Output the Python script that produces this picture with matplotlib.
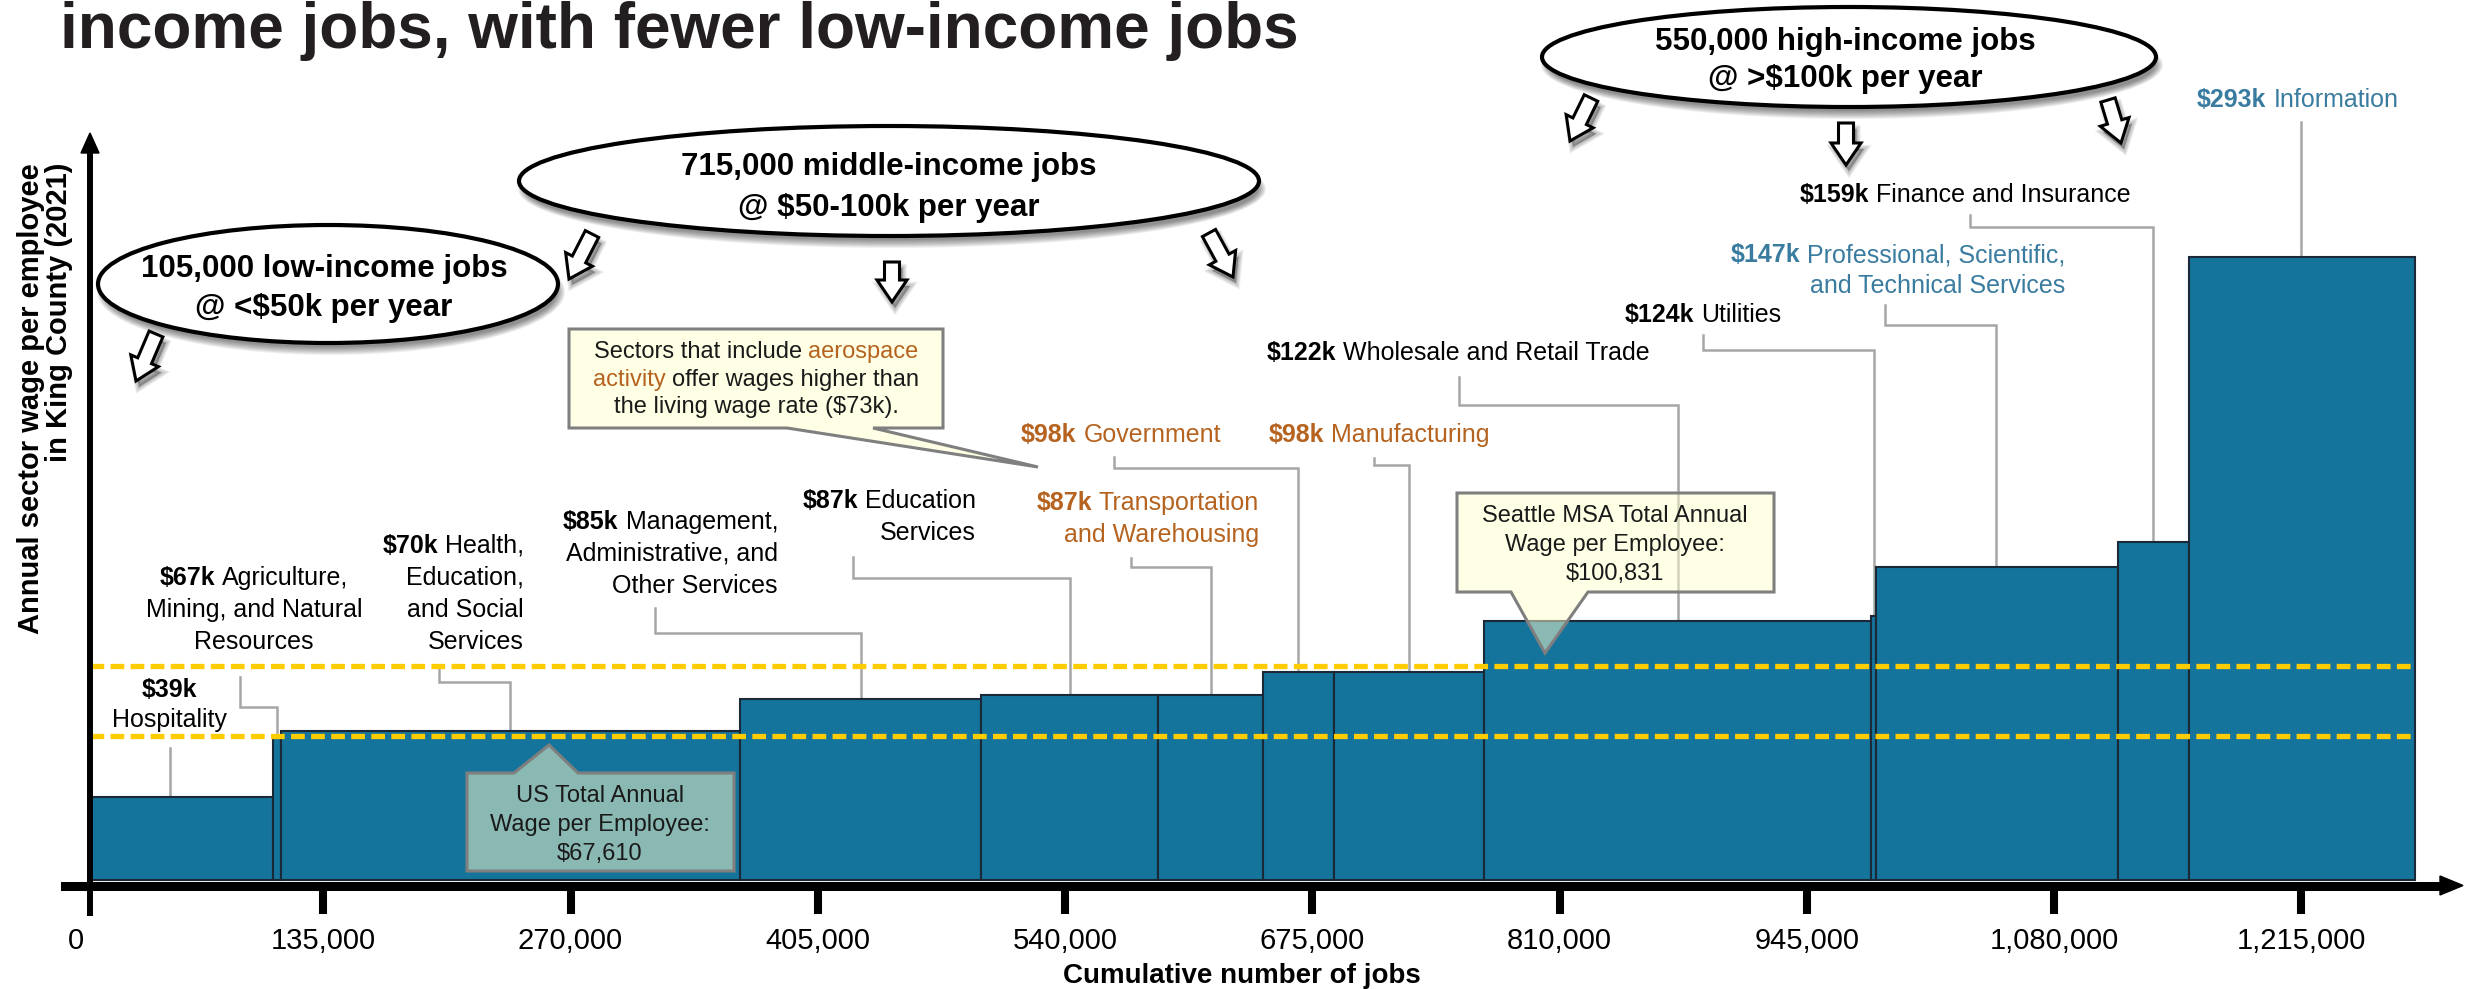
import numpy as np
import matplotlib
matplotlib.use("Agg")
import matplotlib.pyplot as plt
from matplotlib.patches import Ellipse, Polygon
from matplotlib.lines import Line2D
from matplotlib.transforms import Affine2D

plt.rcParams['font.family'] = ['Liberation Sans', 'DejaVu Sans']

# ---------------- data ----------------
sector_names = [
    ["Hospitality"],
    ["Agriculture,", "Mining, and Natural", "Resources"],
    ["Health,", "Education,", "and Social", "Services"],
    ["Management,", "Administrative, and", "Other Services"],
    ["Education", "Services"],
    ["Transportation", "and Warehousing"],
    ["Government"],
    ["Manufacturing"],
    ["Wholesale and Retail Trade"],
    ["Utilities"],
    ["Professional, Scientific,", "and Technical Services"],
    ["Finance and Insurance"],
    ["Information"],
]
wage_k = [39, 67, 70, 85, 87, 87, 98, 98, 122, 124, 147, 159, 293]
jobs = [100200, 4400, 250300, 131600, 96600, 57300, 38800, 81900,
        211600, 2700, 131900, 38800, 123400]
label_group = ["k", "k", "k", "k", "k", "o", "o", "o", "k", "k", "b", "k", "b"]
us_wage_k = 67.610
seattle_wage_k = 100.831
axis_cross_jobs = 7600
x_ticks = [0, 135000, 270000, 405000, 540000, 675000, 810000, 945000, 1080000, 1215000]
x_tick_labels = ["0", "135,000", "270,000", "405,000", "540,000", "675,000",
                 "810,000", "945,000", "1,080,000", "1,215,000"]

COL = {"k": "#000000", "o": "#B5631F", "b": "#3A7CA0"}
BAR = "#15749B"

# ---------------- figure ----------------
W, H = 2468, 989
fig = plt.figure(figsize=(W / 100, H / 100), dpi=100)
fig.patch.set_facecolor("white")
pxT = Affine2D().scale(1 / W, -1 / H).translate(0, 1) + fig.transFigure

PX_PER_K = 2.127
BASE_PY = 880
JOBS_PER_PX = 546.0
ZERO_PX = 76
axL, axR, axT, axB = 65, 2447, 148, 913
ax = fig.add_axes([axL / W, 1 - axB / H, (axR - axL) / W, (axB - axT) / H])
ax.set_xlim((axL - ZERO_PX) * JOBS_PER_PX, (axR - ZERO_PX) * JOBS_PER_PX)
ax.set_ylim(-(axB - BASE_PY) / PX_PER_K, (BASE_PY - axT) / PX_PER_K)
ax.patch.set_alpha(0)

# bars
lefts = axis_cross_jobs + np.concatenate([[0], np.cumsum(jobs)[:-1]])
ax.bar(lefts, wage_k, width=jobs, align="edge", color=BAR,
       edgecolor="#1B2838", linewidth=1.5, zorder=2)
right_end = axis_cross_jobs + np.sum(jobs)

# reference wage lines
for v in (us_wage_k, seattle_wage_k):
    ax.plot([axis_cross_jobs, right_end], [v, v], color="#FFCC00", lw=3.8,
            dashes=(2.6, 1.2), dash_capstyle="butt", zorder=3)

# axes styling
for s in ("top", "right"):
    ax.spines[s].set_visible(False)
ax.spines["bottom"].set_position(("data", -2.6))
ax.spines["bottom"].set_linewidth(6.5)
ax.spines["left"].set_position(("data", axis_cross_jobs))
ax.spines["left"].set_linewidth(4.3)
for s in ("bottom", "left"):
    ax.spines[s].set_zorder(6)
ax.set_yticks([])
ax.set_xticks(x_ticks)
ax.set_xticklabels(x_tick_labels)
ax.tick_params(axis="x", direction="out", length=19.8, width=5.8,
               labelsize=21, pad=10)
ticks = ax.xaxis.get_major_ticks()
ticks[0].tick1line.set_visible(False)

# axis arrowheads
ax.add_patch(Polygon([(2440, 876), (2463, 885.5), (2440, 895)], closed=True,
                     transform=pxT, color="black", clip_on=False, zorder=6))
ax.add_patch(Polygon([(81, 153), (90, 133), (99, 153)], closed=True,
                     transform=pxT, color="black", clip_on=False, zorder=6))

# axis titles
ax.text(1242, 983, "Cumulative number of jobs", transform=pxT, ha="center",
        va="baseline", fontsize=20, fontweight="bold", clip_on=False)
ax.text(31, 163, "Annual sector wage per employee", transform=pxT, rotation=90,
        ha="center", va="top", fontsize=21, fontweight="bold", clip_on=False)
ax.text(59, 163, "in King County (2021)", transform=pxT, rotation=90,
        ha="center", va="top", fontsize=21, fontweight="bold", clip_on=False)

# title (second line of a clipped heading)
ax.text(60, 48, "income jobs, with fewer low-income jobs", transform=pxT,
        ha="left", va="baseline", fontsize=46, fontweight="bold",
        color="#231F20", clip_on=False)

renderer = fig.canvas.get_renderer()


def rich_line(x, y, parts, ha="left", size=18, zorder=8):
    arts, widths = [], []
    for s, bold, col in parts:
        t = ax.text(0, y, s, transform=pxT, fontsize=size,
                    fontweight="bold" if bold else "normal", color=col,
                    va="baseline", ha="left", clip_on=False, zorder=zorder)
        arts.append(t)
        widths.append(t.get_window_extent(renderer).width)
    gap = 0.278 * size * 100 / 72
    total = sum(widths) + gap * (len(parts) - 1)
    start = {"left": x, "center": x - total / 2, "right": x - total}[ha]
    for t, w in zip(arts, widths):
        t.set_x(start)
        start += w + gap


# sector labels
label_anchor = [(169, "center"), (254, "center"), (524, "right"), (778, "right"),
                (976, "right"), (1259, "right"), (1021, "left"), (1269, "left"),
                (1267, "left"), (1625, "left"), (2065, "right"), (1800, "left"),
                (2197, "left")]
label_baselines = [[697, 727], [585, 617, 649], [553, 585, 617, 649],
                   [529, 561, 593], [508, 540], [510, 542], [442], [442], [360],
                   [322], [262, 293], [202], [107]]
leaders = [
    [(170, 748)],
    [(240, 677), (240, 707), (277, 707)],
    [(439, 667), (439, 682), (510, 682)],
    [(655, 608), (655, 633), (861, 633)],
    [(853, 557), (853, 578), (1070, 578)],
    [(1131, 558), (1131, 567), (1211, 567)],
    [(1114, 457), (1114, 468), (1298, 468)],
    [(1374, 458), (1374, 465), (1409, 465)],
    [(1459, 377), (1459, 405), (1678, 405)],
    [(1703, 335), (1703, 350), (1874, 350)],
    [(1885, 305), (1885, 325), (1996, 325)],
    [(1970, 215), (1970, 227), (2153, 227)],
    [(2301, 122)],
]

for i, names in enumerate(sector_names):
    col = COL[label_group[i]]
    x, ha = label_anchor[i]
    bls = label_baselines[i]
    value = f"${wage_k[i]}k"
    if i == 0:
        rich_line(x, bls[0], [(value, True, col)], ha)
        rich_line(x, bls[1], [(names[0], False, col)], ha)
    else:
        rich_line(x, bls[0], [(value, True, col), (names[0], False, col)], ha)
        for nm, bl in zip(names[1:], bls[1:]):
            rich_line(x, bl, [(nm, False, col)], ha)
    # leader line ending on the bar top
    pts = leaders[i]
    top_disp = ax.transData.transform((0, wage_k[i]))[1]
    top_py = H - top_disp
    xs = [p[0] for p in pts] + [pts[-1][0]]
    ys = [p[1] for p in pts] + [top_py]
    ax.add_line(Line2D(xs, ys, transform=pxT, color="#A6A6A6", lw=1.8,
                       clip_on=False, zorder=1.5, solid_joinstyle="miter"))


# callouts
def callout(pts):
    ax.add_patch(Polygon(pts, closed=True, transform=pxT,
                         facecolor=(1, 1, 0.8, 0.5), edgecolor="#7F7F7F",
                         lw=2.2, joinstyle="miter", clip_on=False, zorder=7))


callout([(569, 329), (943, 329), (943, 428), (873, 428), (1038, 467),
         (787, 428), (569, 428)])
ORG = COL["o"]
rich_line(756, 358, [("Sectors that include", False, "#1a1a1a"), ("aerospace", False, ORG)], "center", 17)
rich_line(756, 386, [("activity", False, ORG), ("offer wages higher than", False, "#1a1a1a")], "center", 17)
rich_line(756, 413, [("the living wage rate ($73k).", False, "#1a1a1a")], "center", 17)

callout([(467, 773), (514, 773), (549, 745), (578, 773), (734, 773),
         (734, 871), (467, 871)])
for s, bl in zip(["US Total Annual", "Wage per Employee:", f"${us_wage_k * 1000:,.0f}"],
                 [802, 831, 860]):
    rich_line(600, bl, [(s, False, "#1a1a1a")], "center", 17)

callout([(1457, 493), (1774, 493), (1774, 592), (1588, 592), (1545, 653),
         (1511, 592), (1457, 592)])
for s, bl in zip(["Seattle MSA Total Annual", "Wage per Employee:",
                  f"${seattle_wage_k * 1000:,.0f}"], [522, 551, 580]):
    rich_line(1615, bl, [(s, False, "#1a1a1a")], "center", 17)


# ellipses with shadows
def shadowed_ellipse(cx, cy, w, h):
    for k in range(9):
        ax.add_patch(Ellipse((cx + 3, cy + 8), w + 2 * k - 8, h + 2 * k - 8,
                             transform=pxT, facecolor="black", edgecolor="none",
                             alpha=0.06, clip_on=False, zorder=4))
    ax.add_patch(Ellipse((cx, cy), w, h, transform=pxT, facecolor="white",
                         edgecolor="black", lw=3, clip_on=False, zorder=4.1))


def block_arrow(tail, tip, shaft=15, head=30, head_len=22):
    tail = np.array(tail, float)
    tip = np.array(tip, float)
    d = tip - tail
    d /= np.linalg.norm(d)
    n = np.array([-d[1], d[0]])
    neck = tip - d * head_len
    pts = [tail + n * shaft / 2, neck + n * shaft / 2, neck + n * head / 2, tip,
           neck - n * head / 2, neck - n * shaft / 2, tail - n * shaft / 2]
    for k in range(5):
        off = np.array([3, 6])
        ax.add_patch(Polygon([p + off for p in pts], closed=True, transform=pxT,
                             facecolor="black", edgecolor="black", lw=k * 1.5,
                             alpha=0.07, clip_on=False, zorder=4))
    ax.add_patch(Polygon(pts, closed=True, transform=pxT, facecolor="white",
                         edgecolor="black", lw=2.2, joinstyle="miter",
                         clip_on=False, zorder=4.2))


shadowed_ellipse(328, 284, 460, 118)
shadowed_ellipse(889, 181, 740, 110)
shadowed_ellipse(1849, 57, 614, 100)

for tail, tip in [((156, 334), (136, 381)), ((592, 234), (569, 279)),
                  ((892, 262), (892, 302)), ((1209, 233), (1233, 277)),
                  ((1591, 98), (1570, 141)), ((1846, 123), (1846, 165)),
                  ((2108, 100), (2121, 143))]:
    block_arrow(tail, tip)

for txt, x, bl in [("105,000 low-income jobs", 324, 277), ("@ <$50k per year", 324, 316),
                   ("715,000 middle-income jobs", 889, 175), ("@ $50-100k per year", 889, 216),
                   ("550,000 high-income jobs", 1845, 50), ("@ >$100k per year", 1845, 87)]:
    ax.text(x, bl, txt, transform=pxT, ha="center", va="baseline", fontsize=22.5,
            fontweight="bold", clip_on=False, zorder=9)

fig.savefig("out.png", dpi=100, facecolor="white")
